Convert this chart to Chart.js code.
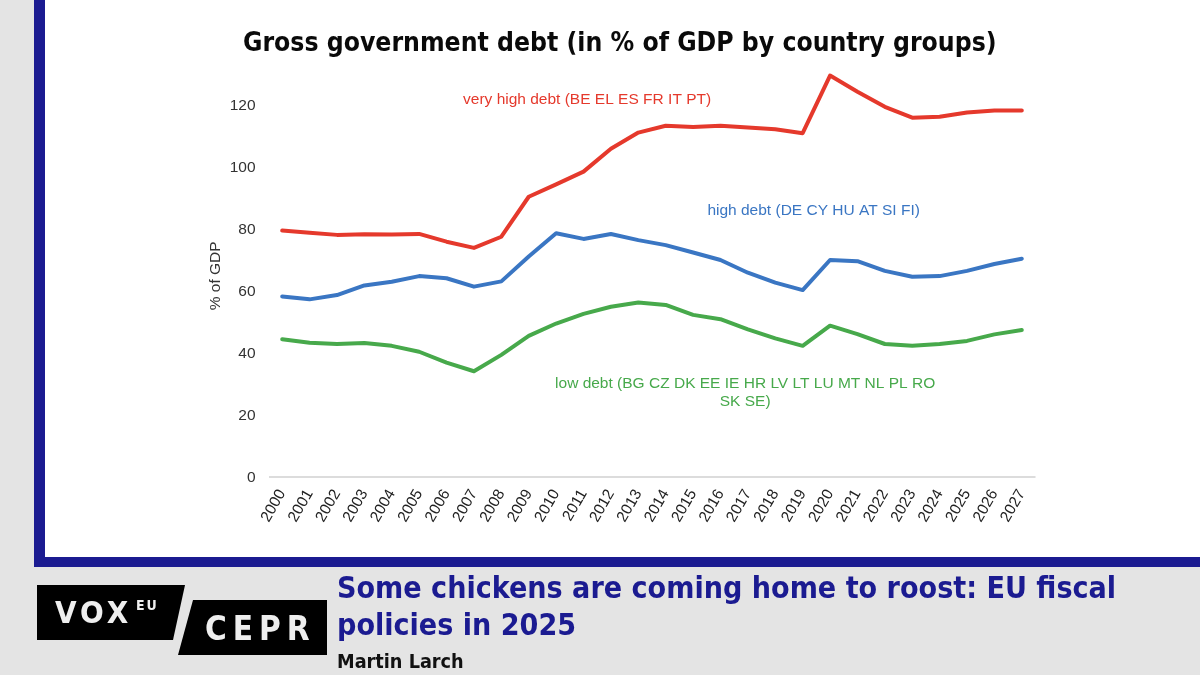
<!DOCTYPE html>
<html>
<head>
<meta charset="utf-8">
<script src="https://cdn.jsdelivr.net/npm/chart.js@4/dist/chart.umd.min.js"></script>
<style>
  html, body { margin: 0; padding: 0; }
  body { width: 1200px; height: 675px; background: #e4e4e4; position: relative; overflow: hidden; }
  #frame { position: absolute; left: 34px; top: 0; width: 1166px; height: 567px; background: #1b1b91; }
  #panel { position: absolute; left: 45px; top: 0; width: 1155px; height: 557px; background: #fff; }
  #chart { position: absolute; left: 0; top: 0; }
  #title { position: absolute; left: 243px; top: 27px; font-family: "DejaVu Sans Condensed", "DejaVu Sans", sans-serif;
           font-weight: bold; font-size: 26.3px; color: #0a0a0a; white-space: nowrap; }
  #logo { position: absolute; left: 0; top: 0; }
  #headline { position: absolute; left: 337px; top: 569px; font-family: "DejaVu Sans Condensed", "DejaVu Sans", sans-serif;
              font-weight: bold; font-size: 30.1px; line-height: 37px; color: #1b1b91; white-space: nowrap; }
  #author { position: absolute; left: 337px; top: 650px; font-family: "DejaVu Sans Condensed", "DejaVu Sans", sans-serif;
            font-weight: bold; font-size: 19.7px; color: #111; }
</style>
</head>
<body>
<div id="frame"></div>
<div id="panel">
  <canvas id="chart" width="1155" height="557"></canvas>
</div>
<div id="title">Gross government debt (in % of GDP by country groups)</div>
<svg id="logo" width="340" height="675">
  <polygon points="37,585 185,585 173,640 37,640" fill="#000"/>
  <polygon points="193,600 327,600 327,655 178,655" fill="#000"/>
  <text x="55" y="623" fill="#eee" font-family="DejaVu Sans Condensed, DejaVu Sans" font-weight="bold" font-size="31" letter-spacing="4">VOX</text>
  <text x="136" y="610" fill="#eee" font-family="DejaVu Sans Condensed, DejaVu Sans" font-weight="bold" font-size="14" letter-spacing="2">EU</text>
  <text x="205" y="640" fill="#eee" font-family="DejaVu Sans Condensed, DejaVu Sans" font-weight="bold" font-size="33" letter-spacing="6">CEPR</text>
</svg>
<div id="headline">Some chickens are coming home to roost: EU fiscal<br>policies in 2025</div>
<div id="author">Martin Larch</div>
<script>
var years = ['2000', '2001', '2002', '2003', '2004', '2005', '2006', '2007', '2008', '2009',
             '2010', '2011', '2012', '2013', '2014', '2015', '2016', '2017', '2018', '2019',
             '2020', '2021', '2022', '2023', '2024', '2025', '2026', '2027'];

var veryHighDebt = [79.6, 78.9, 78.2, 78.4, 78.3, 78.5, 76.0, 74.0, 77.6, 90.5,
                    94.5, 98.6, 106.0, 111.2, 113.4, 113.0, 113.4, 112.8, 112.3, 111.0,
                    129.6, 124.4, 119.5, 116.0, 116.3, 117.7, 118.3, 118.3];
var highDebt = [58.3, 57.4, 58.8, 61.9, 63.1, 64.9, 64.2, 61.5, 63.2, 71.2,
                78.7, 76.9, 78.5, 76.5, 74.9, 72.5, 70.1, 66.0, 62.8, 60.4,
                70.1, 69.7, 66.6, 64.7, 64.9, 66.6, 68.8, 70.5];
var lowDebt = [44.5, 43.4, 43.0, 43.3, 42.4, 40.5, 37.0, 34.2, 39.5, 45.6,
               49.6, 52.7, 55.0, 56.4, 55.6, 52.4, 51.0, 47.7, 44.8, 42.4,
               48.9, 46.2, 43.0, 42.4, 43.0, 44.0, 46.1, 47.5];

var yTicks = [0, 20, 40, 60, 80, 100, 120];

var seriesNames = ['very high debt (BE EL ES FR IT PT)',
                   'high debt (DE CY HU AT SI FI)',
                   'low debt (BG CZ DK EE IE HR LV LT LU MT NL PL RO',
                   'SK SE)'];

var red = '#e5392c', blue = '#3a76c3', green = '#47a94b';
var tickFont = { family: 'Liberation Sans, Arial, sans-serif', size: 15.5 };

// series labels placed in data space (category index, value)
var notes = [
    { text: seriesNames[0], x: 11.13, y: 121.7, color: red },
    { text: seriesNames[1], x: 19.4, y: 85.9, color: blue },
    { text: seriesNames[2], x: 16.9, y: 30.1, color: green },
    { text: seriesNames[3], x: 16.9, y: 24.3, color: green }
];

var notePlugin = {
    id: 'notes',
    afterDatasetsDraw: function (chart) {
        var ctx = chart.ctx,
            xs = chart.scales.x,
            ys = chart.scales.y;
        ctx.save();
        ctx.font = '15.5px "Liberation Sans", Arial, sans-serif';
        ctx.textAlign = 'center';
        ctx.textBaseline = 'middle';
        for (var i = 0; i < notes.length; i++) {
            ctx.fillStyle = notes[i].color;
            ctx.fillText(notes[i].text, xs.getPixelForValue(notes[i].x), ys.getPixelForValue(notes[i].y));
        }
        ctx.restore();
    }
};

var debtChart = new Chart(document.getElementById('chart'), {
    type: 'line',
    data: {
        labels: years,
        datasets: [
            { label: 'very high debt', data: veryHighDebt, borderColor: red },
            { label: 'high debt', data: highDebt, borderColor: blue },
            { label: 'low debt', data: lowDebt, borderColor: green }
        ]
    },
    options: {
        responsive: false,
        animation: false,
        clip: false,
        elements: {
            line: { borderWidth: 4, tension: 0, borderCapStyle: 'round', borderJoinStyle: 'round' },
            point: { radius: 0 }
        },
        layout: { padding: { top: 74.3, right: 164.5, left: 157, bottom: 0 } },
        plugins: { legend: { display: false }, tooltip: { enabled: false } },
        scales: {
            x: {
                offset: true,
                grid: { display: false, drawTicks: false },
                border: { display: false },
                ticks: { autoSkip: false, minRotation: 60, maxRotation: 60, padding: 9, color: '#222', font: tickFont },
                afterFit: function (scale) { scale.height = 79.7; }
            },
            y: {
                min: 0,
                max: 130,
                afterBuildTicks: function (scale) {
                    scale.ticks = yTicks.map(function (v) { return { value: v }; });
                },
                grid: {
                    drawTicks: false,
                    lineWidth: 2,
                    color: function (c) { return c.tick && c.tick.value === 0 ? '#dcdcdc' : 'rgba(0,0,0,0)'; }
                },
                border: { display: false },
                ticks: { padding: 13, color: '#333', font: tickFont },
                title: { display: true, text: '% of GDP', color: '#333', font: tickFont },
                afterFit: function (scale) { scale.width = 66.5; }
            }
        }
    },
    plugins: [notePlugin]
});
</script>
</body>
</html>
